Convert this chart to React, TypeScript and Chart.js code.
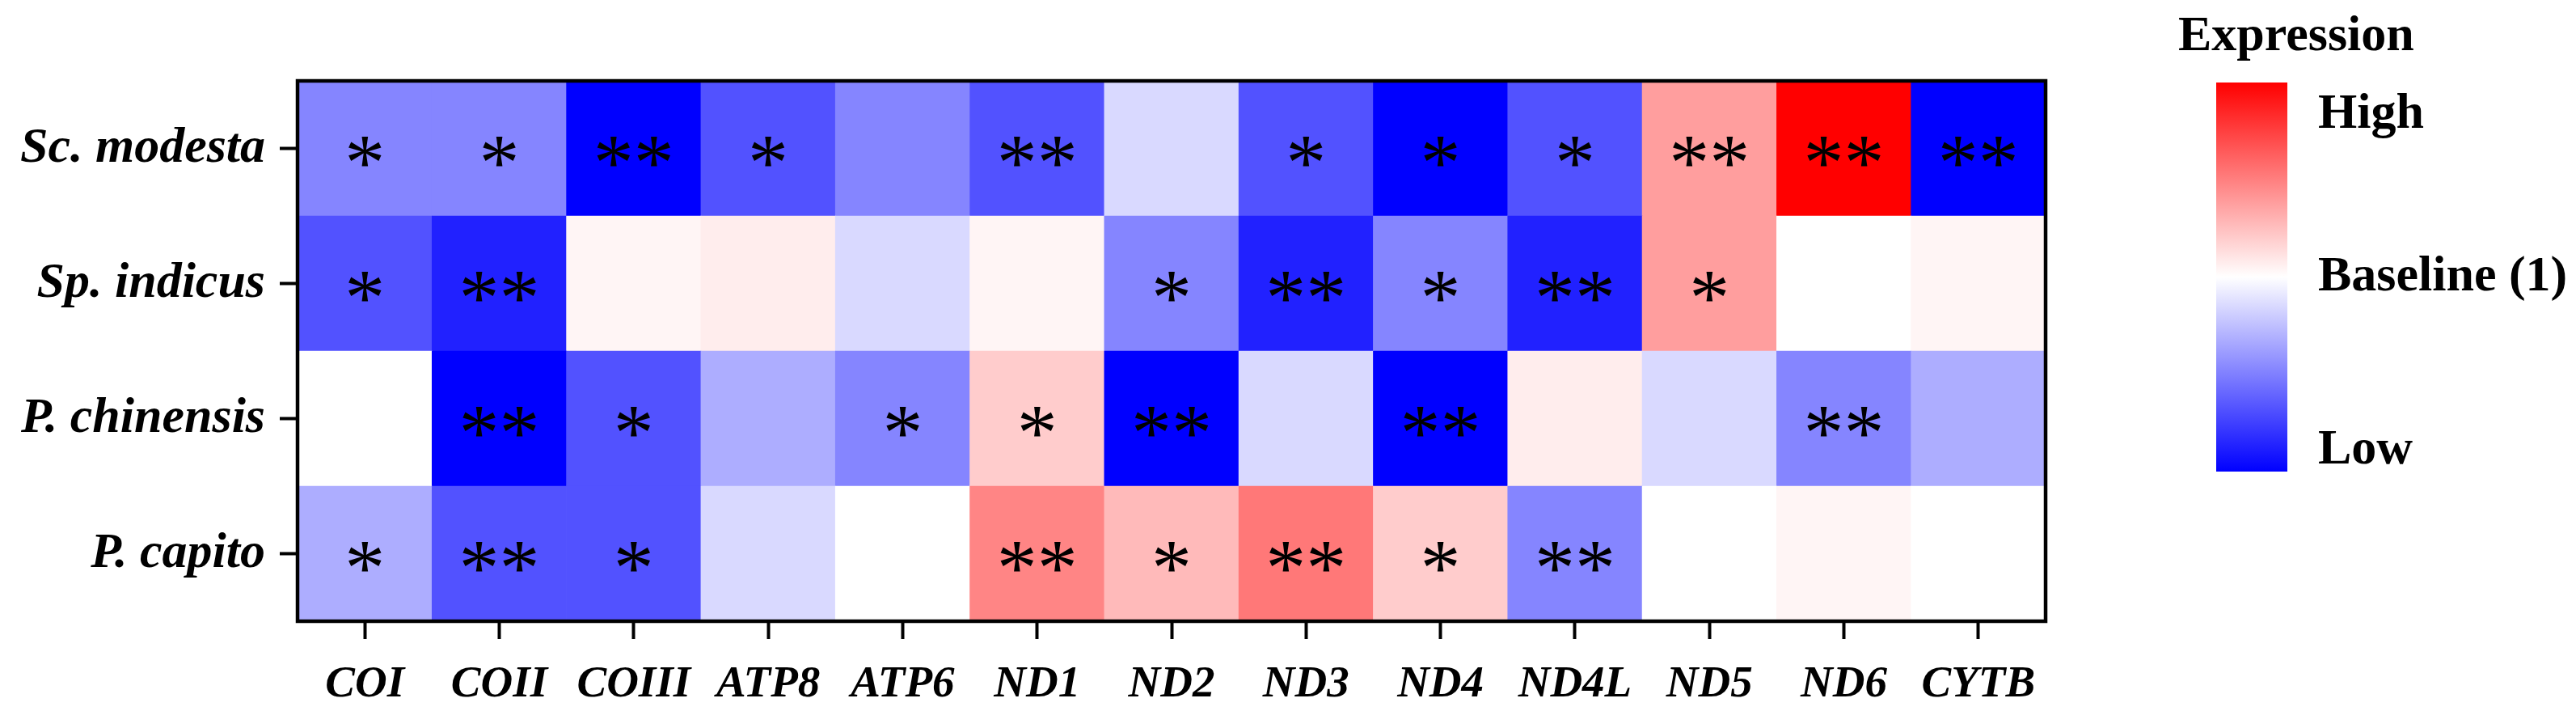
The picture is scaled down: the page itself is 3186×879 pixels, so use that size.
import React, { useEffect, useRef } from "react";
import { Chart, registerables } from "chart.js";

Chart.register(...registerables);

// ---- Data ----
const genes = ["COI", "COII", "COIII", "ATP8", "ATP6", "ND1", "ND2", "ND3", "ND4", "ND4L", "ND5", "ND6", "CYTB"];
const species = ["Sc. modesta", "Sp. indicus", "P. chinensis", "P. capito"];

// relative expression score: -1 = lowest (blue), 0 = baseline (white), 1 = highest (red)
const scModesta = [-0.48, -0.48, -1, -0.68, -0.48, -0.68, -0.15, -0.68, -1, -0.68, 0.38, 1, -1];
const spIndicus = [-0.68, -0.87, 0.04, 0.07, -0.15, 0.04, -0.48, -0.87, -0.48, -0.87, 0.38, 0, 0.04];
const pChinensis = [0, -1, -0.68, -0.32, -0.48, 0.2, -1, -0.15, -1, 0.07, -0.15, -0.48, -0.32];
const pCapito = [-0.32, -0.68, -0.68, -0.15, 0, 0.48, 0.27, 0.53, 0.2, -0.48, 0, 0.04, 0];

const scModestaSig = ["*", "*", "**", "*", "", "**", "", "*", "*", "*", "**", "**", "**"];
const spIndicusSig = ["*", "**", "", "", "", "", "*", "**", "*", "**", "*", "", ""];
const pChinensisSig = ["", "**", "*", "", "*", "*", "**", "", "**", "", "", "**", ""];
const pCapitoSig = ["*", "**", "*", "", "", "**", "*", "**", "*", "**", "", "", ""];

const legendTitle = "Expression";
const legendLabels = ["High", "Baseline (1)", "Low"];

const SERIF = "'Liberation Serif', 'Times New Roman', serif";

function colorFor(v: number): string {
  if (v < 0) {
    const c = Math.round(255 * (1 + v));
    return `rgb(${c},${c},255)`;
  }
  const c = Math.round(255 * (1 - v));
  return `rgb(255,${c},${c})`;
}

export default function App() {
  const ref = useRef<HTMLCanvasElement | null>(null);

  useEffect(() => {
    document.body.style.margin = "0";
    const canvas = ref.current;
    if (!canvas) return;

    // bottom-to-top stacking order
    const rowsBottomUp = [
      { name: species[3], values: pCapito, sig: pCapitoSig },
      { name: species[2], values: pChinensis, sig: pChinensisSig },
      { name: species[1], values: spIndicus, sig: spIndicusSig },
      { name: species[0], values: scModesta, sig: scModestaSig },
    ];

    const sigPlugin = {
      id: "sigAndFrame",
      afterDatasetsDraw(chart: any) {
        const ctx = chart.ctx;
        ctx.save();
        ctx.fillStyle = "#000";
        ctx.font = `100px ${SERIF}`;
        ctx.textAlign = "center";
        ctx.textBaseline = "alphabetic";
        const m = ctx.measureText("*");
        const off = (m.actualBoundingBoxAscent - m.actualBoundingBoxDescent) / 2 + 4;
        chart.data.datasets.forEach((ds: any, di: number) => {
          const meta = chart.getDatasetMeta(di);
          meta.data.forEach((el: any, i: number) => {
            const s = ds.sig[i];
            if (!s) return;
            const cy = (el.y + el.base) / 2;
            ctx.fillText(s, el.x, cy + off);
          });
        });
        const a = chart.chartArea;
        ctx.strokeStyle = "#000";
        ctx.lineWidth = 4.5;
        ctx.strokeRect(a.left, a.top, a.right - a.left, a.bottom - a.top);
        ctx.restore();
      },
      afterDraw(chart: any) {
        const ctx = chart.ctx;
        ctx.save();
        const x0 = 2741, x1 = 2829, y0 = 102, y1 = 583;
        const g = ctx.createLinearGradient(0, y0, 0, y1);
        g.addColorStop(0, "rgb(255,0,0)");
        g.addColorStop(0.5, "rgb(255,255,255)");
        g.addColorStop(1, "rgb(0,0,255)");
        ctx.fillStyle = g;
        ctx.fillRect(x0, y0, x1 - x0, y1 - y0);
        ctx.fillStyle = "#000";
        ctx.font = `bold 62px ${SERIF}`;
        ctx.textAlign = "left";
        ctx.textBaseline = "alphabetic";
        ctx.fillText(legendTitle, 2694, 62);
        ctx.fillText(legendLabels[0], 2867, 158);
        ctx.fillText(legendLabels[1], 2867, 359);
        ctx.fillText(legendLabels[2], 2867, 573);
        ctx.restore();
      },
    };

    const chart = new Chart(canvas, {
      type: "bar",
      data: {
        labels: genes,
        datasets: rowsBottomUp.map((r) => ({
          label: r.name,
          data: r.values.map(() => 1),
          sig: r.sig,
          backgroundColor: r.values.map(colorFor),
          borderWidth: 0,
          barPercentage: 1,
          categoryPercentage: 1,
        })) as any,
      },
      options: {
        responsive: false,
        animation: false,
        events: [],
        layout: { padding: { top: 100, right: 656, left: 0, bottom: 0 } },
        plugins: { legend: { display: false }, tooltip: { enabled: false }, title: { display: false } },
        scales: {
          x: {
            stacked: true,
            offset: true,
            grid: { display: true, drawOnChartArea: false, drawTicks: true, offset: false, tickLength: 22, tickWidth: 4, tickColor: "#000" },
            border: { display: false },
            ticks: {
              color: "#000",
              padding: 24,
              maxRotation: 0,
              autoSkip: false,
              font: { family: SERIF, size: 55, weight: "bold", style: "italic" },
            },
            afterFit: (scale: any) => {
              scale.height = 111;
            },
          },
          y: {
            type: "linear",
            stacked: true,
            min: 0,
            max: 4,
            grid: { display: true, drawOnChartArea: false, drawTicks: true, tickLength: 22, tickWidth: 4, tickColor: "#000" },
            border: { display: false },
            afterBuildTicks: (scale: any) => {
              scale.ticks = [0.5, 1.5, 2.5, 3.5].map((v) => ({ value: v }));
            },
            ticks: {
              color: "#000",
              padding: 18,
              autoSkip: false,
              callback: (_v: any, i: number) => (rowsBottomUp[i] ? rowsBottomUp[i].name : ""),
              font: { family: SERIF, size: 62, weight: "bold", style: "italic" },
            },
            afterFit: (scale: any) => {
              scale.width = 368;
            },
          },
        },
      } as any,
      plugins: [sigPlugin],
    });

    return () => chart.destroy();
  }, []);

  return (
    <div style={{ width: 3186, height: 879, background: "#fff" }}>
      <canvas ref={ref} width={3186} height={879} style={{ display: "block", width: 3186, height: 879 }} />
    </div>
  );
}
